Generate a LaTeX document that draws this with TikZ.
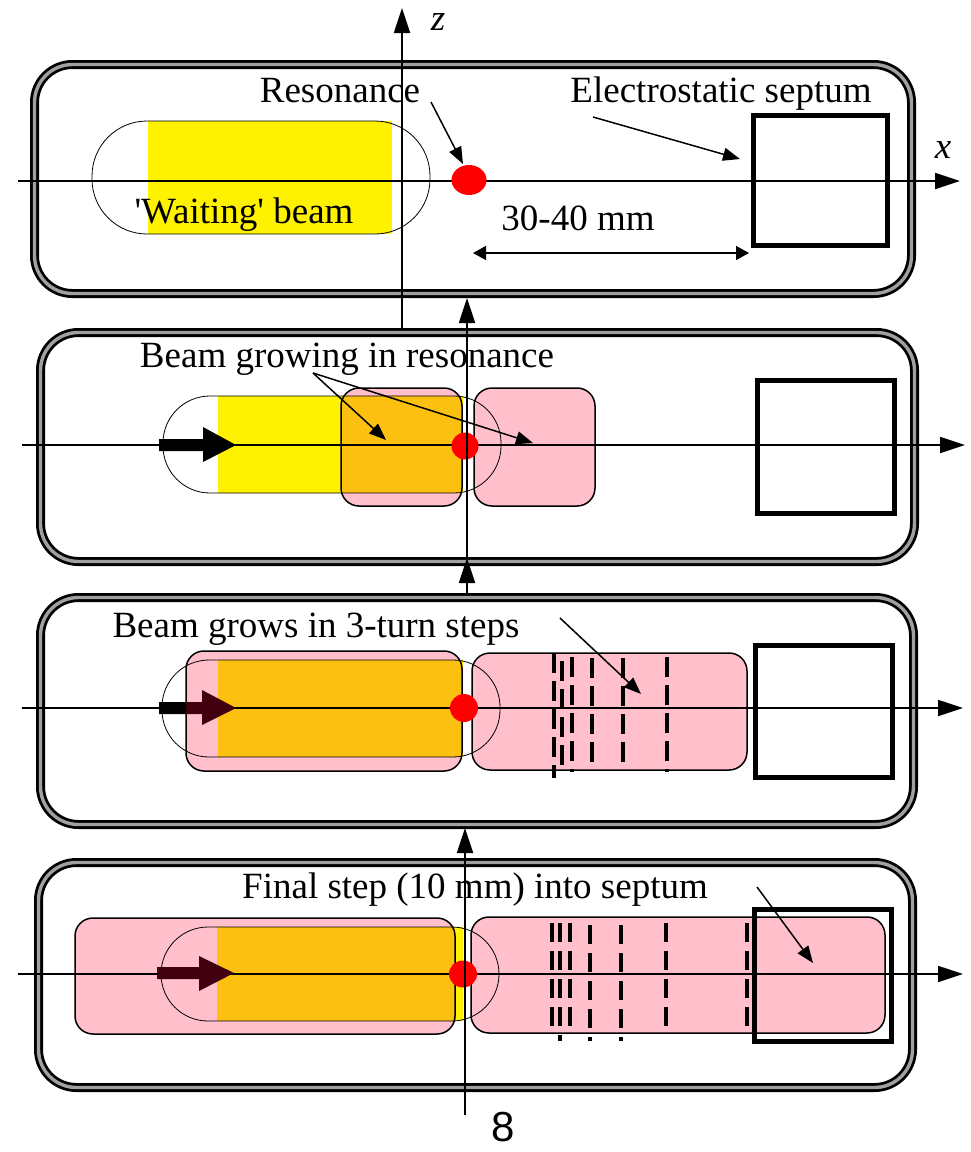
\documentclass[tikz,border=0pt]{standalone}
\usepackage{fontspec}
\setmainfont{Liberation Serif}
\newfontfamily\pagesans{Liberation Sans}
\usetikzlibrary{arrows.meta,shapes.geometric}
\definecolor{beampink}{RGB}{255,192,203}
\definecolor{beamorange}{RGB}{252,192,16}
\definecolor{bordergrey}{RGB}{160,160,160}
\definecolor{darkmaroon}{RGB}{64,0,16}
\begin{document}
\begin{tikzpicture}[x=1pt,y=-1pt,
  panelframe/.style={line width=9pt,draw=black,fill=white,rounded corners=38pt},
  panelgrey/.style={line width=3.4pt,draw=bordergrey,rounded corners=38pt},
  stadium/.style={line width=0.8pt,draw=black},
  pinkedge/.style={line width=1.5pt,draw=black,rounded corners=18pt},
  septumbox/.style={line width=5pt,draw=black},
  axisline/.style={line width=1.8pt,-{Triangle[length=25pt,width=16pt]}},
  notearrow/.style={line width=1.5pt,-{Triangle[length=17pt,width=13pt]}},
  dimarrow/.style={line width=1.5pt,{Triangle[length=13pt,width=14pt]}-{Triangle[length=13pt,width=14pt]}},
  dashline/.style={line width=4pt,dash pattern=on 20pt off 8pt},
  dashlineb/.style={line width=4pt,dash pattern=on 19pt off 9pt},
  reddot/.style={ellipse,fill=red,inner sep=0pt},
  lbl/.style={font=\fontsize{37}{44}\selectfont,inner sep=0pt,anchor=base},
  pglbl/.style={font=\pagesans\fontsize{42}{50}\selectfont,inner sep=0pt,anchor=base}
]
\useasboundingbox (0,0) rectangle (970,1152);

% ---------- panel frames ----------
\foreach \a/\b/\c/\d in {34.5/64.5/911.5/293.5, 40.5/332.5/914.5/561.5, 40.5/597.5/913.5/824.5, 38.5/862.5/912.5/1087.5}{
  \draw[panelframe] (\a,\b) rectangle (\c,\d);
  \draw[panelgrey] (\a,\b) rectangle (\c,\d);
}

% ---------- panel 1 ----------
\fill[yellow] (148,121) rectangle (392,234);
\draw[stadium,rounded corners=55pt] (92,121) rectangle (430,234);

% ---------- panel 2 ----------
\fill[yellow] (218,396) rectangle (463,493);
\fill[beampink,rounded corners=18pt] (341,388) rectangle (462,506);
\begin{scope}
  \clip[rounded corners=18pt] (341,388) rectangle (462,506);
  \fill[beamorange] (218,396) rectangle (463,493);
\end{scope}
\draw[pinkedge] (341,388) rectangle (462,506);
\draw[pinkedge,fill=beampink] (474,388) rectangle (595,506);
\draw[stadium,rounded corners=47pt] (163,396) rectangle (501,493);

% ---------- panel 3 ----------
\fill[yellow] (218,660) rectangle (463,757);
\fill[beampink,rounded corners=18pt] (186,651) rectangle (462,771);
\begin{scope}
  \clip[rounded corners=18pt] (186,651) rectangle (462,771);
  \fill[beamorange] (218,660) rectangle (463,757);
\end{scope}
\draw[pinkedge] (186,651) rectangle (462,771);
\draw[pinkedge,fill=beampink] (472,653) rectangle (747,770);
\draw[stadium,rounded corners=47pt] (162,660) rectangle (500,757);

% ---------- panel 4 ----------
\fill[yellow] (217,927) rectangle (463,1021);
\fill[beampink,rounded corners=18pt] (75,918) rectangle (455,1034);
\begin{scope}
  \clip[rounded corners=18pt] (75,918) rectangle (455,1034);
  \fill[beamorange] (217,927) rectangle (463,1021);
\end{scope}
\draw[pinkedge] (75,918) rectangle (455,1034);
\draw[pinkedge,fill=beampink] (471,917) rectangle (885,1033);
\draw[stadium,rounded corners=47pt] (161,927) rectangle (499,1021);

% ---------- dashed step lines ----------
\foreach \xx/\ya/\yb in {554/653/778, 562/661/765, 572/657/772, 592/658/762, 623/658/762, 667/657/772}{
  \draw[dashline] (\xx,\ya) -- (\xx,\yb);
}
\foreach \xx/\ya/\yb in {552/923/1027, 560/923/1041, 570/923/1027, 590/925/1041, 621/925/1041, 666/923/1027, 747/923/1027}{
  \draw[dashlineb] (\xx,\ya) -- (\xx,\yb);
}

% ---------- septum boxes ----------
\node[septumbox,minimum width=134pt,minimum height=130pt,inner sep=0pt] (sep1) at (820.5,180.5) {};
\node[septumbox,minimum width=137pt,minimum height=133pt,inner sep=0pt] (sep2) at (826,447) {};
\node[septumbox,minimum width=137pt,minimum height=132pt,inner sep=0pt] (sep3) at (824,711.5) {};
\node[septumbox,minimum width=137pt,minimum height=132pt,inner sep=0pt] (sep4) at (823,975.5) {};

% ---------- horizontal axes ----------
\coordinate (xa1) at (18,181);  \coordinate (xb1) at (960,181);
\coordinate (xa2) at (22,445);  \coordinate (xb2) at (965,445);
\coordinate (xa3) at (22,708);  \coordinate (xb3) at (963,708);
\coordinate (xa4) at (18,974);  \coordinate (xb4) at (963,974);
\draw[axisline] (xa1) -- (xb1);
\draw[axisline] (xa2) -- (xb2);
\draw[axisline] (xa3) -- (xb3);
\draw[axisline] (xa4) -- (xb4);

% ---------- thick beam arrows ----------
\fill[black] (159,439) -- (203,439) -- (203,427) -- (236,445) -- (203,462) -- (203,451) -- (159,451) -- cycle;
\fill[darkmaroon] (159,702) -- (202,702) -- (202,690) -- (236,708) -- (202,725) -- (202,714) -- (159,714) -- cycle;
\begin{scope}
  \clip (150,680) rectangle (186,730);
  \fill[black] (159,702) -- (202,702) -- (202,714) -- (159,714) -- cycle;
\end{scope}
\fill[darkmaroon] (157,967) -- (199,967) -- (199,956) -- (234,973) -- (199,991) -- (199,979) -- (157,979) -- cycle;

% ---------- resonance dots ----------
\node[reddot,minimum width=35pt,minimum height=30pt] (r1) at (469,180) {};
\node[reddot,minimum width=27pt,minimum height=27pt] (r2) at (465,446) {};
\node[reddot,minimum width=28pt,minimum height=28pt] (r3) at (464,708) {};
\node[reddot,minimum width=28pt,minimum height=27pt] (r4) at (463,974) {};

% ---------- vertical axes ----------
\coordinate (zbot) at (402,330); \coordinate (ztop) at (402,8);
\draw[axisline] (zbot) -- (ztop);
\coordinate (v2a) at (467,558); \coordinate (v2b) at (467,298);
\draw[axisline] (v2a) -- (v2b);
\coordinate (v3a) at (467,593);
\draw[axisline] (v3a) -- (v2a);
\coordinate (v4a) at (465,1115); \coordinate (v4b) at (465,828);
\draw[axisline] (v4a) -- (v4b);

% ---------- labels ----------
\node[lbl] (res) at (340,102) {Resonance};
\node[lbl] (esep) at (721,102) {Electrostatic septum};
\node[lbl] (wait) at (244,223) {\textquotesingle Waiting\textquotesingle\ beam};
\node[lbl] (dim) at (578,230) {30-40 mm};
\node[lbl] (grow) at (347,367) {Beam growing in resonance};
\node[lbl] (steps) at (316,637) {Beam grows in 3-turn steps};
\node[lbl] (final) at (475,898) {Final step (10 mm) into septum};
\node[lbl] (zl) at (438,30) {\textit{z}};
\node[lbl] (xl) at (943,158) {\textit{x}};
\node[pglbl] (pg) at (503,1141) {8};

% ---------- annotation arrows ----------
\coordinate (a1s) at (431,102); \coordinate (a1e) at (463,164);
\draw[notearrow] (a1s) -- (a1e);
\coordinate (a2s) at (593,117); \coordinate (a2e) at (740,159);
\draw[notearrow] (a2s) -- (a2e);
\coordinate (a3s) at (313,373);
\coordinate (a3e) at (386,440); \coordinate (a4e) at (533,443);
\draw[notearrow] (a3s) -- (a3e);
\draw[notearrow] (a3s) -- (a4e);
\coordinate (a5s) at (560,618); \coordinate (a5e) at (641,694);
\draw[notearrow] (a5s) -- (a5e);
\coordinate (a6s) at (757,887); \coordinate (a6e) at (813,963);
\draw[notearrow] (a6s) -- (a6e);
\coordinate (d1) at (473,253); \coordinate (d2) at (749,253);
\draw[dimarrow] (d1) -- (d2);
\end{tikzpicture}
\end{document}
